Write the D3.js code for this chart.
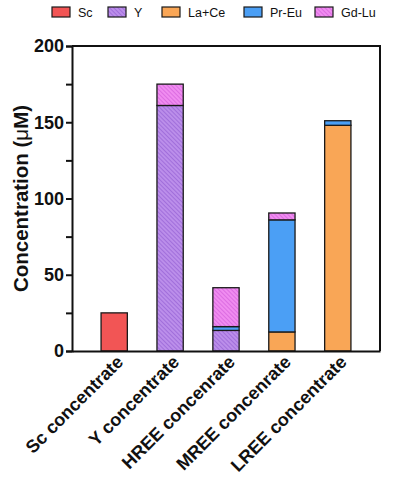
<!DOCTYPE html>
<html>
<head>
<meta charset="utf-8">
<script src="https://cdn.jsdelivr.net/npm/d3@7"></script>
<style>
  body { margin: 0; background: #fff; }
  svg { font-family: "Liberation Sans", Arial, sans-serif; }
</style>
</head>
<body>
<div id="chart"></div>
<script>
// chart data
var categories = ['Sc concentrate', 'Y concentrate', 'HREE concenrate', 'MREE concenrate', 'LREE concentrate'];
var seriesNames = ['Sc', 'Y', 'La+Ce', 'Pr-Eu', 'Gd-Lu'];
var sc    = [25, 0, 0, 0, 0];
var yy    = [0, 161, 13.5, 0, 0];
var lace  = [0, 0, 0, 12.5, 148];
var preu  = [0, 0, 2.5, 73.5, 3];
var gdlu  = [0, 14, 25.5, 4.5, 0];
var yTicks = [0, 50, 100, 150, 200];
var yMinor = [25, 75, 125, 175];

var colors = ['#f25555', 'url(#hatchY)', '#f9a656', '#4b9ff5', 'url(#hatchGd)'];

var table = categories.map(function(c, i) {
  return { cat: c, 'Sc': sc[i], 'Y': yy[i], 'La+Ce': lace[i], 'Pr-Eu': preu[i], 'Gd-Lu': gdlu[i] };
});

var W = 415, H = 480;
var m = { top: 46, right: 35, bottom: 129, left: 72 };
var w = W - m.left - m.right;
var h = H - m.top - m.bottom;

var svg = d3.select('#chart').append('svg')
  .attr('width', W).attr('height', H);

// hatch patterns for Y and Gd-Lu
var defs = svg.append('defs');
function hatch(id, bg, fg) {
  var p = defs.append('pattern')
    .attr('id', id)
    .attr('patternUnits', 'userSpaceOnUse')
    .attr('width', 3).attr('height', 3)
    .attr('patternTransform', 'rotate(-45)');
  p.append('rect').attr('width', 3).attr('height', 3).attr('fill', bg);
  p.append('line').attr('x1', 0).attr('y1', 0).attr('x2', 0).attr('y2', 3)
    .attr('stroke', fg).attr('stroke-width', 1.2);
}
hatch('hatchY', '#bb8eea', '#8f5ad2');
hatch('hatchGd', '#f08cf0', '#cf58da');

var g = svg.append('g').attr('transform', 'translate(' + m.left + ',' + m.top + ')');

var x = d3.scaleBand().domain(categories).range([0, w]).paddingInner(0.53).paddingOuter(0.52);
var y = d3.scaleLinear().domain([0, 200]).range([h, 0]);

var stack = d3.stack().keys(seriesNames)(table);

// frame (top and right)
g.append('path')
  .attr('d', 'M0,0H' + w + 'V' + h)
  .attr('fill', 'none').attr('stroke', '#111').attr('stroke-width', 2);

// bars
g.selectAll('.series').data(stack).enter().append('g')
  .attr('class', 'series')
  .attr('fill', function(d, i) { return colors[i]; })
  .selectAll('rect').data(function(d) { return d.filter(function(e) { return e[1] - e[0] > 0; }); })
  .enter().append('rect')
  .attr('x', function(d) { return x(d.data.cat); })
  .attr('width', x.bandwidth())
  .attr('y', function(d) { return y(d[1]); })
  .attr('height', function(d) { return y(d[0]) - y(d[1]); })
  .attr('stroke', '#1a1a1a').attr('stroke-width', 1.3);

// y axis
var yAxis = g.append('g').call(d3.axisLeft(y).tickValues(yTicks).tickSize(6).tickPadding(2));
g.append('g').call(d3.axisLeft(y).tickValues(yMinor).tickSize(6).tickFormat(''))
  .select('.domain').remove();
g.selectAll('.tick line').attr('stroke', '#111').attr('stroke-width', 2);
yAxis.select('.domain').attr('stroke', '#111').attr('stroke-width', 2);
yAxis.selectAll('text').attr('font-size', 18).attr('font-weight', 'bold').attr('fill', '#111')
  .attr('font-family', '"Liberation Sans", Arial, sans-serif');

// x axis
var xAxis = g.append('g').attr('transform', 'translate(0,' + h + ')')
  .call(d3.axisBottom(x).tickSize(0).tickPadding(8));
xAxis.select('.domain').attr('stroke', '#111').attr('stroke-width', 2);
xAxis.selectAll('text')
  .attr('font-size', 18).attr('font-weight', 'bold').attr('fill', '#111')
  .attr('font-family', '"Liberation Sans", Arial, sans-serif')
  .attr('text-anchor', 'end')
  .attr('dy', '0.35em')
  .attr('transform', 'translate(0,2) rotate(-45)');

// y title
svg.append('text')
  .attr('transform', 'translate(28,' + (m.top + h / 2) + ') rotate(-90)')
  .attr('text-anchor', 'middle')
  .attr('font-size', 20.5).attr('font-weight', 'bold').attr('fill', '#111')
  .html('Concentration (<tspan font-weight="normal">μ</tspan>M)');

// legend
var legendX = [52, 108, 162, 244, 315];
var leg = svg.append('g').selectAll('g').data(seriesNames).enter().append('g')
  .attr('transform', function(d, i) { return 'translate(' + legendX[i] + ',7)'; });
leg.append('rect').attr('width', 18).attr('height', 10)
  .attr('fill', function(d, i) { return colors[i]; })
  .attr('stroke', '#1a1a1a').attr('stroke-width', 1.2);
leg.append('text').attr('x', 26).attr('y', 10)
  .attr('font-size', 12.5).attr('fill', '#111')
  .text(function(d) { return d; });
</script>
</body>
</html>
